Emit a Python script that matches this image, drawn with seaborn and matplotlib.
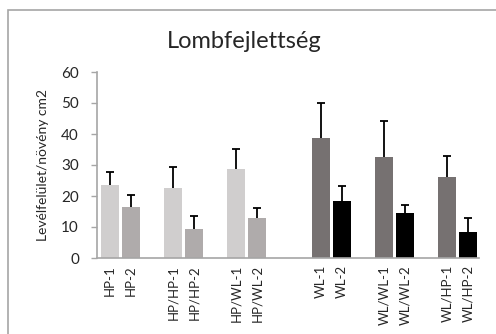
import matplotlib
matplotlib.use("Agg")
import matplotlib.pyplot as plt
import seaborn as sns
import pandas as pd
import numpy as np
from matplotlib.patches import Rectangle

# Data
categories = ["HP-1", "HP-2", "HP/HP-1", "HP/HP-2", "HP/WL-1", "HP/WL-2",
              "WL-1", "WL-2", "WL/WL-1", "WL/WL-2", "WL/HP-1", "WL/HP-2"]
values = [23.4, 16.5, 22.6, 9.4, 28.7, 12.9, 38.7, 18.4, 32.6, 14.6, 26.1, 8.5]
errors = [4.5, 3.7, 6.7, 4.0, 6.6, 3.1, 11.4, 4.8, 11.5, 2.5, 6.9, 4.5]
colors = ["#D0CECE", "#AFABAB", "#D0CECE", "#AFABAB", "#D0CECE", "#AFABAB",
          "#767171", "#000000", "#767171", "#000000", "#767171", "#000000"]
# category slots (blank slots separate the groups)
order = ["HP-1", "HP-2", "_b1", "HP/HP-1", "HP/HP-2", "_b2", "HP/WL-1", "HP/WL-2",
         "_b3", "_b4", "WL-1", "WL-2", "_b5", "WL/WL-1", "WL/WL-2", "_b6",
         "WL/HP-1", "WL/HP-2"]

df = pd.DataFrame({"cat": categories, "val": values, "err": errors})

sns.set_style("white")
plt.rcParams["font.family"] = ["Lato", "DejaVu Sans"]

fig = plt.figure(figsize=(4.96, 3.34), dpi=100)
ax = fig.add_axes([97 / 496, 1 - 258 / 334, (479 - 97) / 496, (258 - 72) / 334])

sns.barplot(data=df, x="cat", y="val", hue="cat", order=order, hue_order=categories,
            palette=colors, legend=False, width=0.85, saturation=1, ax=ax,
            errorbar=None, dodge=False, edgecolor="none")

pos = {c: i for i, c in enumerate(order)}
xs = [pos[c] for c in categories]
eb = ax.errorbar(xs, values, yerr=[np.zeros(len(errors)), errors], fmt="none",
                 ecolor="black", elinewidth=1.3, capsize=3.2, capthick=1.3, zorder=5)
# keep only the upper caps
caplines = eb[1]
if len(caplines) == 2:
    caplines[0].remove()

ax.set_xlim(-0.6, 17.5)
ax.set_ylim(0, 60)
ax.set_yticks(range(0, 61, 10))
ax.set_xticks(range(len(order)))
ax.set_xticklabels([c if not c.startswith("_") else "" for c in order],
                   rotation=90, fontsize=9.5)
ax.tick_params(axis="x", length=0, pad=5)
ax.tick_params(axis="y", length=4, width=1, color="#A6A6A6", labelsize=11, pad=9,
               left=True)
ax.set_xlabel("")
ax.set_ylabel("Levélfelület/növény cm2", fontsize=10)
ax.yaxis.set_label_coords(-0.125, 0.5)

for s in ["top", "right"]:
    ax.spines[s].set_visible(False)
for s in ["left", "bottom"]:
    ax.spines[s].set_color("#A6A6A6")
    ax.spines[s].set_linewidth(1.2)

fig.text(244 / 496, 1 - 41 / 334, "Lombfejlettség", ha="center", va="center",
         fontsize=17)

# chart frame
fig.patches.append(Rectangle((8 / 496, -0.2), 1.1, 1 - 10 / 334 + 0.2,
                             transform=fig.transFigure, fill=False,
                             edgecolor="#A6A6A6", linewidth=1.2))

fig.savefig("out.png", dpi=100)
